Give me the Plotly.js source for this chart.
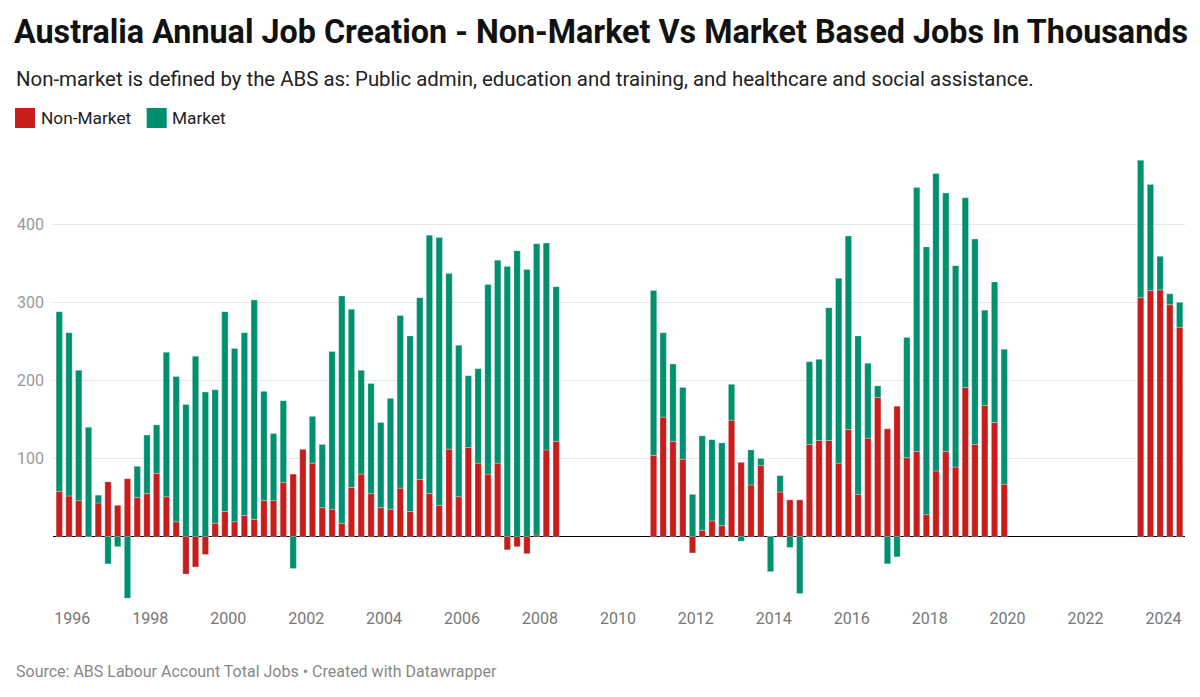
<!DOCTYPE html>
<html>
<head>
<meta charset="utf-8">
<script src="https://cdn.plot.ly/plotly-3.0.1.min.js"></script>
<style>
  html, body { margin: 0; padding: 0; background: #fff; }
  #chart { width: 1200px; height: 697px; }
</style>
</head>
<body>
<div id="chart"></div>
<script>
// Quarter (month the bar is dated at)
const quarters = [
  "1995-09","1995-12","1996-03","1996-06","1996-09","1996-12","1997-03","1997-06",
  "1997-09","1997-12","1998-03","1998-06","1998-09","1998-12","1999-03","1999-06",
  "1999-09","1999-12","2000-03","2000-06","2000-09","2000-12","2001-03","2001-06",
  "2001-09","2001-12","2002-03","2002-06","2002-09","2002-12","2003-03","2003-06",
  "2003-09","2003-12","2004-03","2004-06","2004-09","2004-12","2005-03","2005-06",
  "2005-09","2005-12","2006-03","2006-06","2006-09","2006-12","2007-03","2007-06",
  "2007-09","2007-12","2008-03","2008-06",
  "2010-12","2011-03","2011-06","2011-09","2011-12","2012-03","2012-06","2012-09",
  "2012-12","2013-03","2013-06","2013-09","2013-12","2014-03","2014-06","2014-09",
  "2014-12","2015-03","2015-06","2015-09","2015-12","2016-03","2016-06","2016-09",
  "2016-12","2017-03","2017-06","2017-09","2017-12","2018-03","2018-06","2018-09",
  "2018-12","2019-03","2019-06","2019-09","2019-12",
  "2023-06","2023-09","2023-12","2024-03","2024-06"
];

// Non-market jobs created (thousands)
const nonMarket = [
  58, 52, 46, 0, 43, 70, 40, 74,
  50, 55, 81, 51, 19, -48, -39, -23,
  17, 32, 19, 27, 22, 46, 46, 69,
  80, 112, 94, 37, 35, 17, 63, 80,
  55, 37, 35, 62, 32, 73, 55, 40,
  112, 51, 114, 94, 80, 94, -17, -13,
  -22, 2, 111, 122,
  104, 153, 122, 99, -21, 8, 20, 14,
  149, 95, 66, 91, 0, 57, 47, 47,
  118, 123, 123, 94, 137, 54, 126, 178,
  138, 167, 101, 109, 28, 84, 109, 89,
  191, 118, 168, 146, 67,
  306, 315, 316, 297, 268
];

// Market jobs created (thousands)
const market = [
  230, 209, 167, 140, 10, -35, -13, -79,
  40, 75, 62, 185, 186, 169, 231, 185,
  171, 256, 222, 234, 281, 140, 86, 105,
  -41, 0, 60, 81, 202, 291, 228, 133,
  141, 109, 142, 221, 225, 233, 331, 343,
  225, 194, 92, 121, 243, 260, 346, 366,
  342, 373, 265, 198,
  211, 108, 99, 92, 54, 121, 104, 106,
  46, -6, 45, 9, -45, 21, -14, -73,
  106, 104, 170, 237, 248, 203, 96, 15,
  -35, -26, 154, 338, 343, 381, 331, 258,
  243, 263, 122, 180, 173,
  176, 136, 43, 14, 32
];

const seriesNames = ["Non-Market", "Market"];
const seriesColors = ["#c71e1d", "#00906f"];

const xTickVals = ["1996-01-01","1998-01-01","2000-01-01","2002-01-01","2004-01-01","2006-01-01",
  "2008-01-01","2010-01-01","2012-01-01","2014-01-01","2016-01-01","2018-01-01",
  "2020-01-01","2022-01-01","2024-01-01"];
const xTickText = ["1996","1998","2000","2002","2004","2006","2008","2010","2012","2014",
  "2016","2018","2020","2022","2024"];
const yTickVals = [100, 200, 300, 400];

const titleText = "Australia Annual Job Creation - Non-Market Vs Market Based Jobs In Thousands";
const subtitleText = "Non-market is defined by the ABS as: Public admin, education and training, and healthcare and social assistance.";
const footerText = "Source: ABS Labour Account Total Jobs \u2022 Created with Datawrapper";

const W = 1200, H = 697;
const M = { l: 53, r: 15, t: 154, b: 98 };
const plotW = W - M.l - M.r, plotH = H - M.t - M.b;
// helpers converting page pixels to paper coords (for text/legend placement)
const px = x => (x - M.l) / plotW;
const py = y => (H - M.b - y) / plotH;

const traces = [nonMarket, market].map((vals, i) => ({
  type: "bar",
  name: seriesNames[i],
  x: quarters.map(q => q + "-01"),
  y: vals,
  marker: { color: seriesColors[i], line: { color: "rgba(255,255,255,0.45)", width: 0.6 } },
  hoverinfo: "x+y+name",
  showlegend: false
}));

const font = "Roboto, 'Noto Sans', sans-serif";

const legendItems = [
  { x0: 15, text: seriesNames[0], tx: 39, color: seriesColors[0] },
  { x0: 146.7, text: seriesNames[1], tx: 170, color: seriesColors[1] }
];

const shapes = legendItems.map(it => ({
  type: "rect", xref: "paper", yref: "paper",
  x0: px(it.x0), x1: px(it.x0 + 20), y0: py(128), y1: py(108),
  fillcolor: it.color, line: { width: 0 }
}));

const annotations = [
  { text: subtitleText, x: px(13.5), y: py(79), xanchor: "left", yanchor: "middle",
    font: { family: font, size: 20.4, color: "#222" } },
  { text: footerText, x: px(13.5), y: py(671), xanchor: "left", yanchor: "middle",
    font: { family: font, size: 16, color: "#888" } }
].concat(legendItems.map(it => ({
  text: it.text, x: px(it.tx), y: py(118), xanchor: "left", yanchor: "middle",
  font: { family: font, size: 17.3, color: "#222" }
}))).map(a => Object.assign({ xref: "paper", yref: "paper", showarrow: false }, a));

const layout = {
  width: W, height: H,
  margin: M,
  paper_bgcolor: "#fff", plot_bgcolor: "#fff",
  font: { family: font },
  barmode: "relative",
  bargap: 0.34,
  title: {
    text: "<b>" + titleText + "</b>",
    x: 14 / W, xanchor: "left", xref: "container",
    y: 1 - 32 / H, yanchor: "middle", yref: "container",
    font: { family: font, size: 32.3, color: "#111" }
  },
  xaxis: {
    type: "date",
    range: ["1995-07-04", "2024-07-21"],
    tickvals: xTickVals, ticktext: xTickText,
    showgrid: false, zeroline: false, showline: false,
    ticks: "", ticklabelstandoff: 8,
    tickfont: { family: font, size: 16, color: "#777" }
  },
  yaxis: {
    range: [-80, 490],
    tickvals: yTickVals,
    showgrid: true, gridcolor: "#e6e6e6", gridwidth: 1,
    zeroline: true, zerolinecolor: "#000", zerolinewidth: 1.3,
    showline: false, ticks: "", ticklabelstandoff: 8,
    tickfont: { family: font, size: 16, color: "#999" }
  },
  shapes: shapes,
  annotations: annotations
};

Plotly.newPlot("chart", traces, layout, { displayModeBar: false, staticPlot: true });
</script>
</body>
</html>
